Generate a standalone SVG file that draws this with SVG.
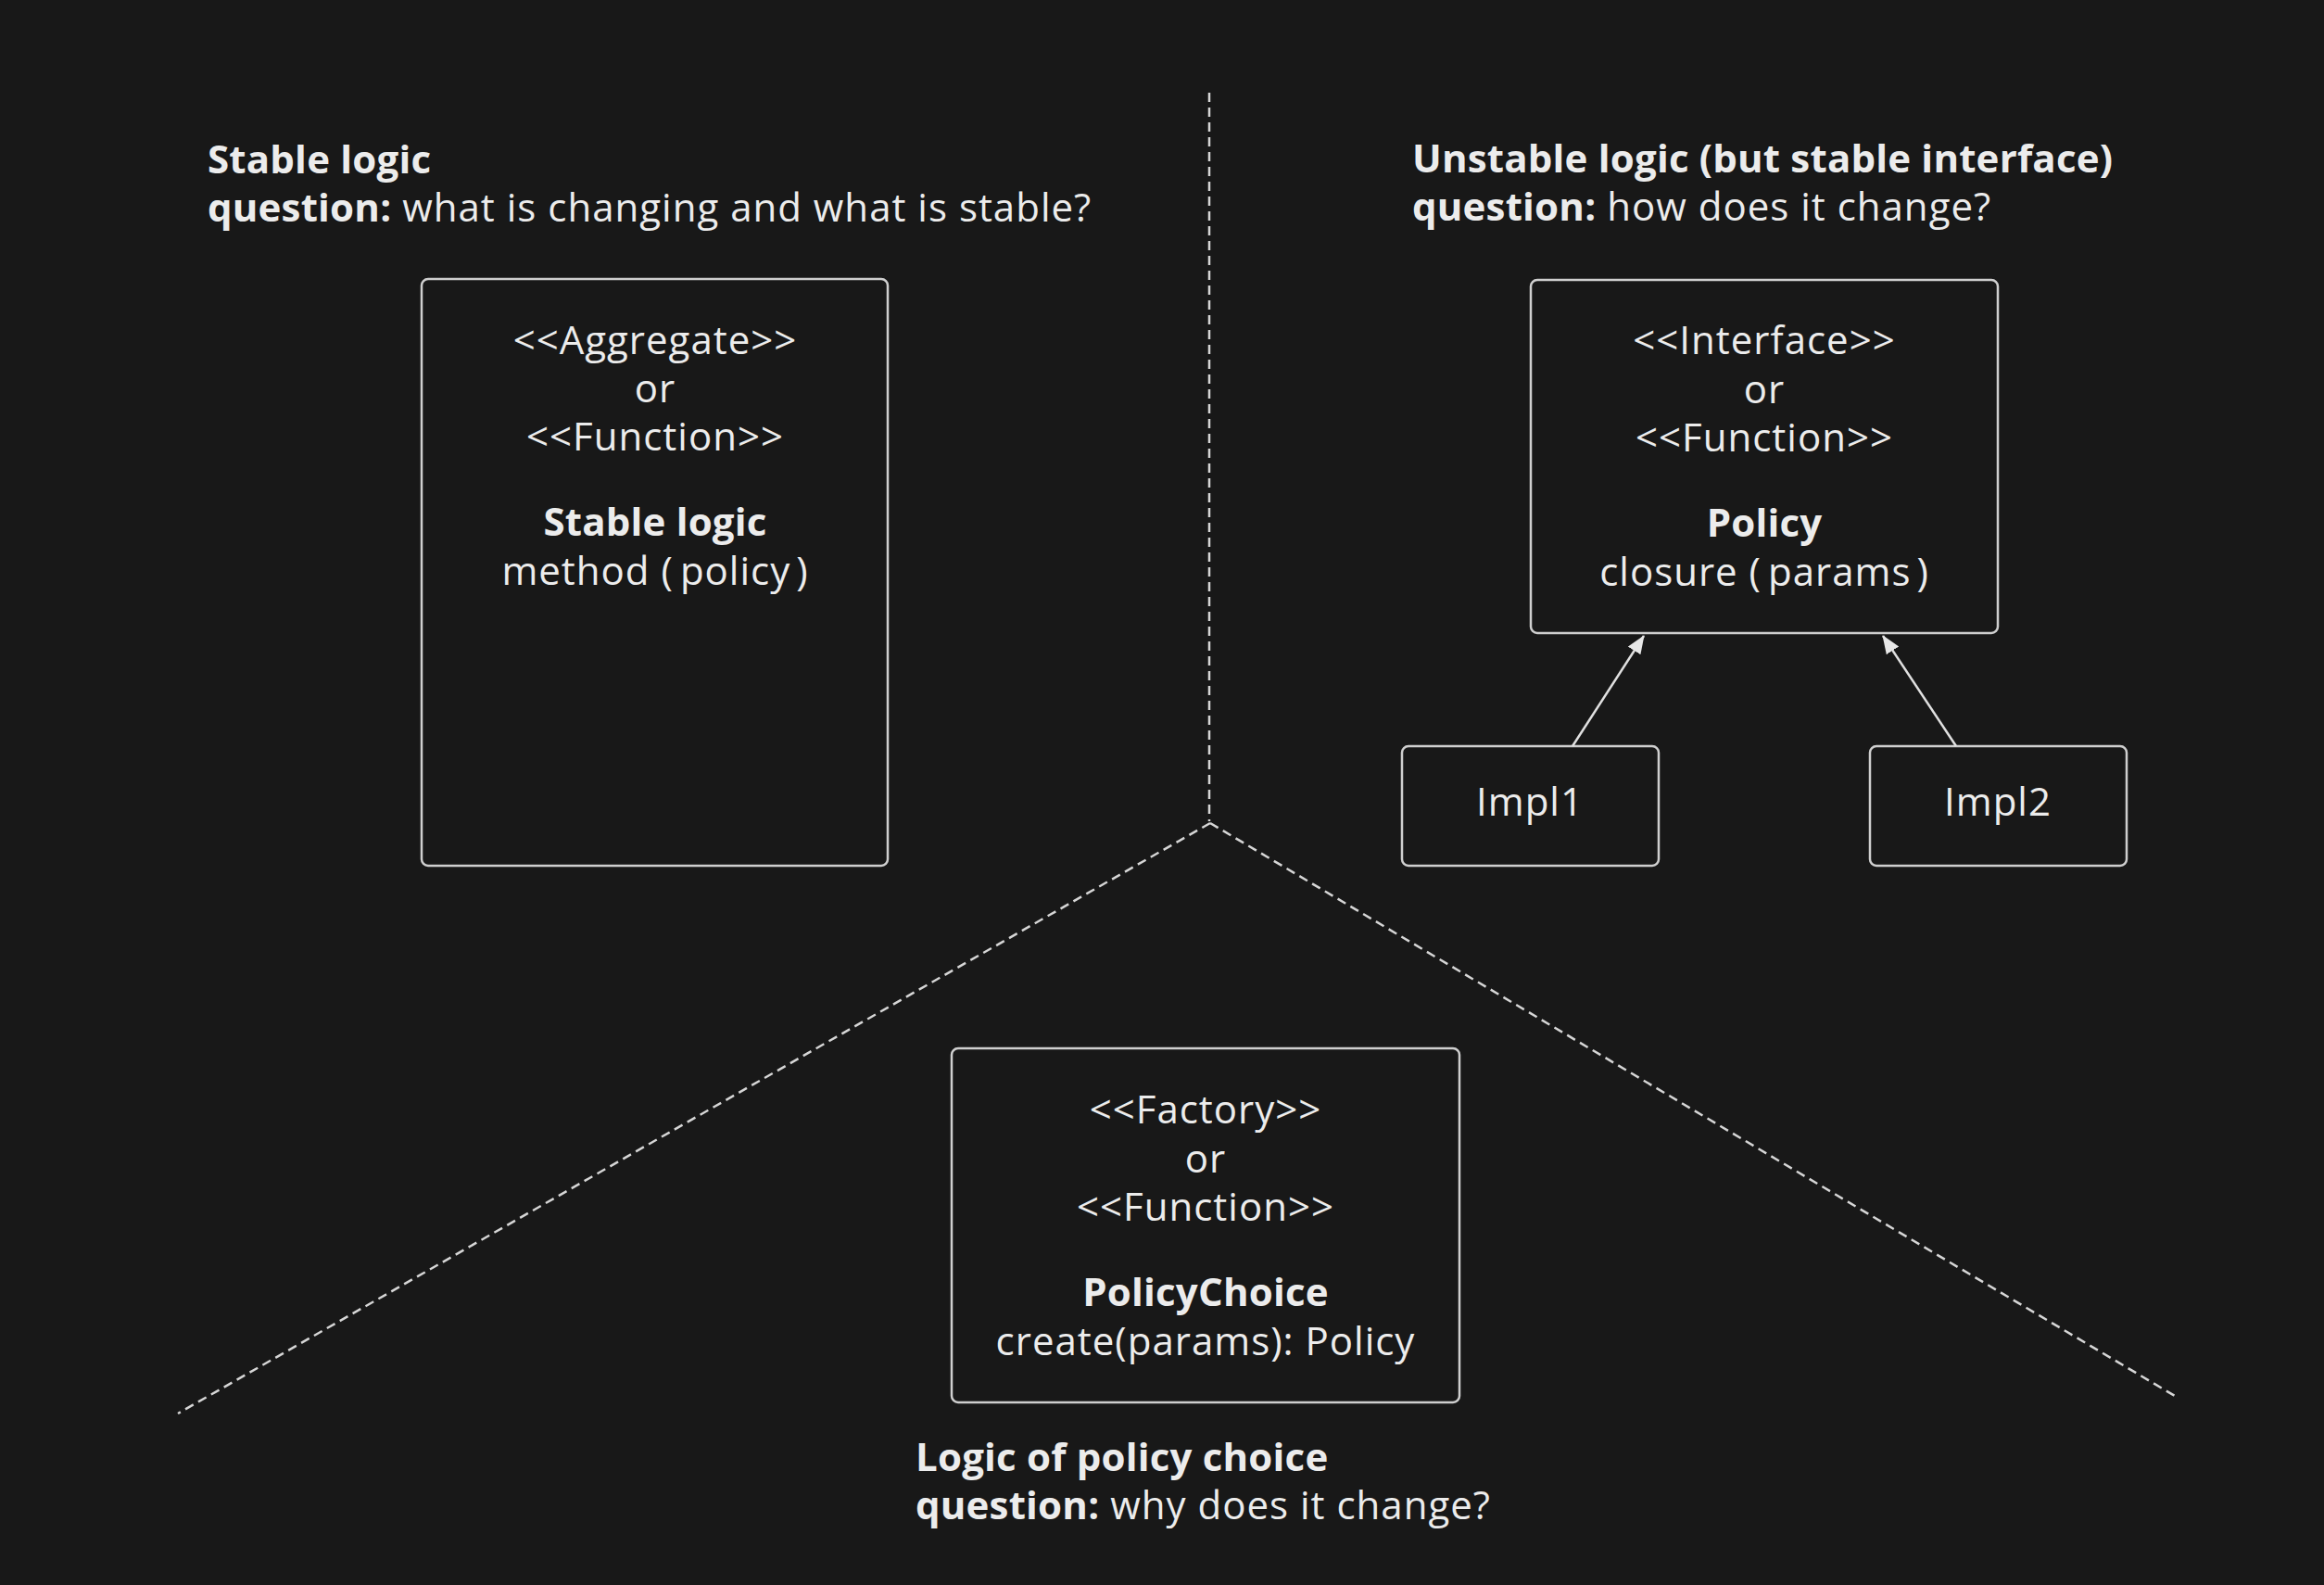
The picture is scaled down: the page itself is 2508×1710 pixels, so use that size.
<svg xmlns="http://www.w3.org/2000/svg" width="2508" height="1710" viewBox="0 0 2508 1710">
<defs>
<style>
text{font-family:"Open Sans","Liberation Sans",sans-serif;fill:#ececec;font-size:42px;letter-spacing:1px}
.b{font-weight:700;letter-spacing:0.2px}
.c{text-anchor:middle}
.box{fill:none;stroke:#cfcfcf;stroke-width:2.5}
.dash{fill:none;stroke:#d6d6d6;stroke-width:2.5;stroke-dasharray:10 6}
.arr{fill:none;stroke:#e0e0e0;stroke-width:2.5}
</style>
<marker id="ah" markerUnits="userSpaceOnUse" markerWidth="20" markerHeight="18" refX="19" refY="8" orient="auto">
<path d="M0,0 L20,8 L0,16 Z" fill="#e8e8e8"/>
</marker>
</defs>
<rect width="2508" height="1710" fill="#181818"/>
<g id="dividers">
<line class="dash" x1="1305" y1="100" x2="1305" y2="886"/>
<line class="dash" x1="1306" y1="888" x2="192" y2="1525"/>
<line class="dash" x1="1306" y1="888" x2="2347" y2="1506"/>
</g>
<g id="title-stable">
<text x="224" y="187" class="b">Stable logic</text>
<text x="224" y="239"><tspan class="b">question:</tspan> what is changing and what is stable?</text>
</g>
<g id="title-unstable">
<text x="1524" y="186" class="b">Unstable logic (but stable interface)</text>
<text x="1524" y="238"><tspan class="b">question:</tspan> how does it change?</text>
</g>
<g id="title-choice">
<text x="988" y="1587" class="b">Logic of policy choice</text>
<text x="988" y="1639"><tspan class="b">question:</tspan> why does it change?</text>
</g>
<g id="node-stable">
<rect class="box" x="455" y="301" width="503" height="633" rx="7"/>
<text class="c" x="707" y="382">&lt;&lt;Aggregate&gt;&gt;</text>
<text class="c" x="707" y="434">or</text>
<text class="c" x="707" y="486">&lt;&lt;Function&gt;&gt;</text>
<text class="c b" x="707" y="578">Stable logic</text>
<text class="c" x="707" y="631">method (<tspan dx="7">policy</tspan><tspan dx="6">)</tspan></text>
</g>
<g id="node-policy">
<rect class="box" x="1652" y="302" width="504" height="381" rx="7"/>
<text class="c" x="1904" y="382">&lt;&lt;Interface&gt;&gt;</text>
<text class="c" x="1904" y="435">or</text>
<text class="c" x="1904" y="487">&lt;&lt;Function&gt;&gt;</text>
<text class="c b" x="1904" y="579">Policy</text>
<text class="c" x="1904" y="632">closure (<tspan dx="7">params</tspan><tspan dx="6">)</tspan></text>
</g>
<g id="node-impl1">
<rect class="box" x="1513" y="805" width="277" height="129" rx="7"/>
<text class="c" x="1651" y="880">Impl1</text>
</g>
<g id="node-impl2">
<rect class="box" x="2018" y="805" width="277" height="129" rx="7"/>
<text class="c" x="2156" y="880">Impl2</text>
</g>
<g id="node-choice">
<rect class="box" x="1027" y="1131" width="548" height="382" rx="7"/>
<text class="c" x="1301" y="1212">&lt;&lt;Factory&gt;&gt;</text>
<text class="c" x="1301" y="1265">or</text>
<text class="c" x="1301" y="1317">&lt;&lt;Function&gt;&gt;</text>
<text class="c b" x="1301" y="1409">PolicyChoice</text>
<text class="c" x="1301" y="1462">create(params): Policy</text>
</g>
<g id="connectors">
<line class="arr" x1="1697" y1="805" x2="1774" y2="686" marker-end="url(#ah)"/>
<line class="arr" x1="2111" y1="805" x2="2032" y2="686" marker-end="url(#ah)"/>
</g>
</svg>
